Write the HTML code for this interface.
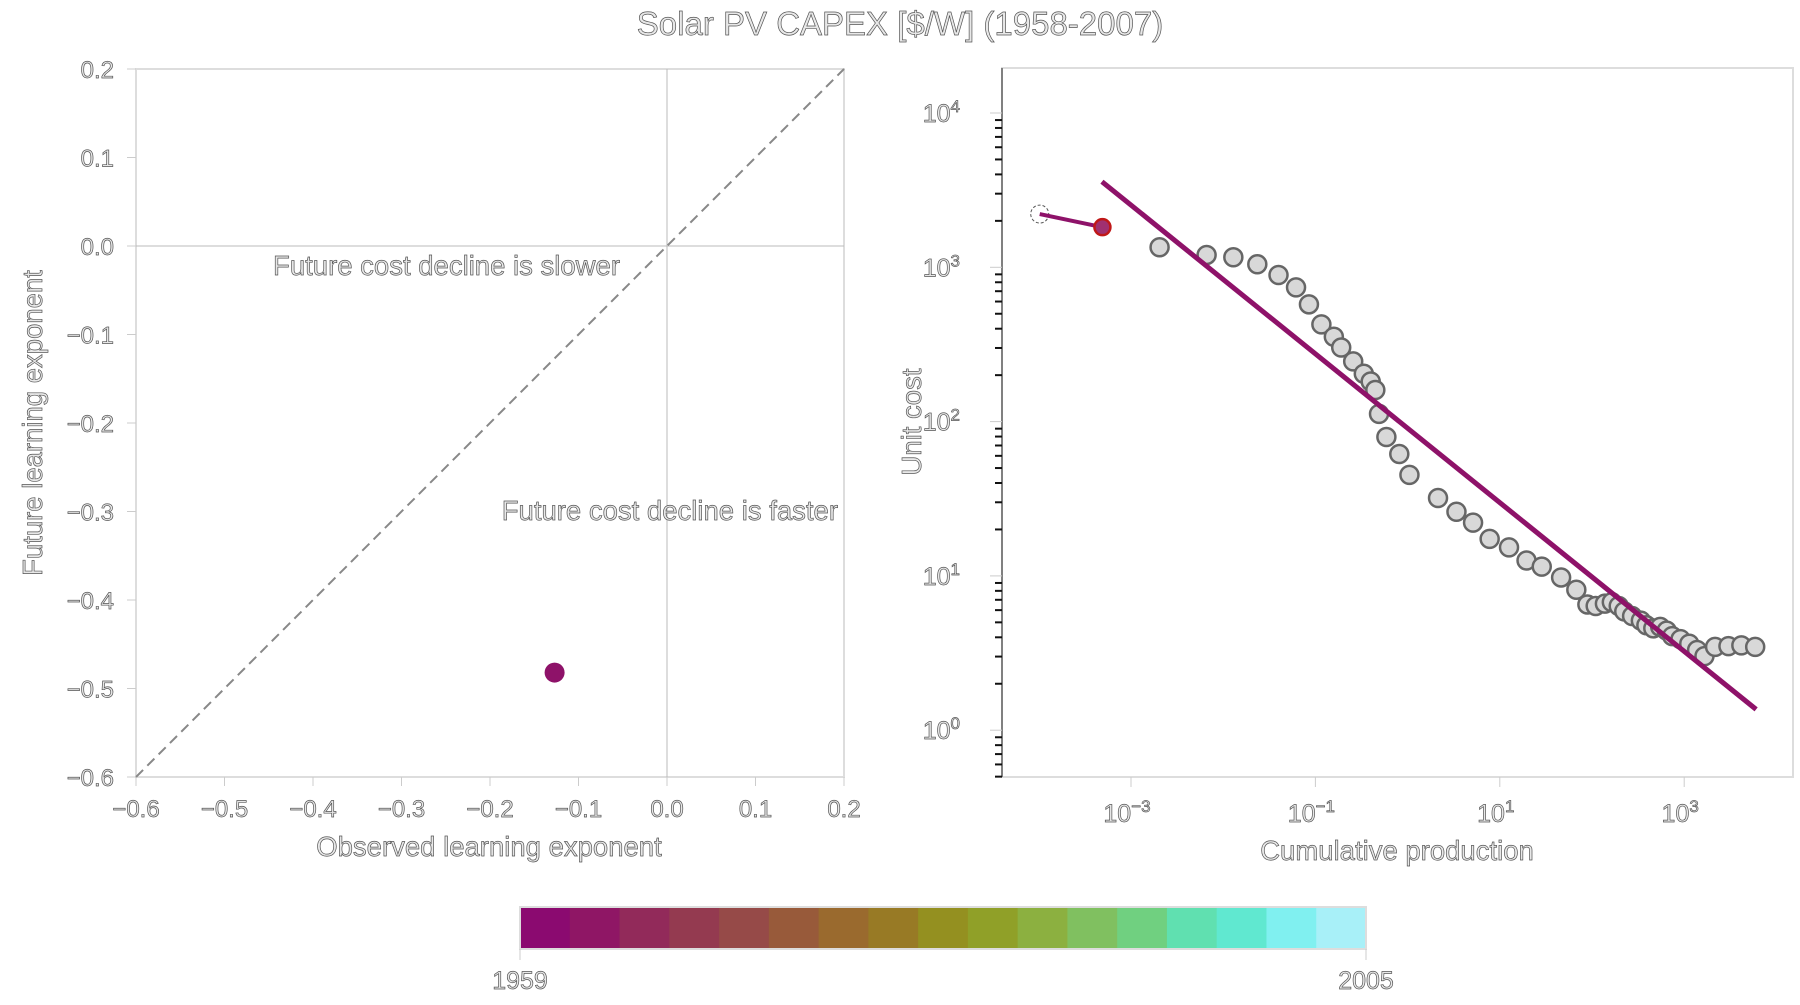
<!DOCTYPE html>
<html><head><meta charset="utf-8"><style>
body{margin:0;background:#fff;width:1800px;height:1000px;overflow:hidden}
text{font-family:"Liberation Sans",sans-serif;fill:#e8e8e8;stroke:#555;stroke-width:0.7px;paint-order:fill}
</style></head><body>
<svg id="chart" width="1800" height="1000" xmlns="http://www.w3.org/2000/svg">
<text x="900" y="35" font-size="33" text-anchor="middle">Solar PV CAPEX [$/W] (1958-2007)</text>
<g id="left"></g>
<g id="right"></g>
<g id="cbar"></g>
</svg>
<script>
const NS="http://www.w3.org/2000/svg";
// ---- left panel data ----
const leftTicks=[-0.6,-0.5,-0.4,-0.3,-0.2,-0.1,0.0,0.1,0.2];
const obsExp=[-0.127];
const futExp=[-0.482];
// ---- right panel data ----
const cumLog=[-3.99,-3.31,-2.69,-2.18,-1.89,-1.63,-1.40,-1.21,-1.07,-0.935,-0.80,-0.72,-0.59,-0.475,-0.40,-0.35,-0.31,-0.23,-0.09,0.02,0.33,0.53,0.71,0.89,1.10,1.29,1.455,1.665,1.83,1.95,2.04,2.14,2.215,2.29,2.35,2.435,2.53,2.59,2.665,2.74,2.81,2.87,2.96,3.055,3.14,3.22,3.335,3.48,3.62,3.77];
const costLog=[3.345,3.26,3.13,3.08,3.065,3.02,2.95,2.87,2.76,2.63,2.55,2.48,2.39,2.31,2.26,2.205,2.05,1.90,1.79,1.655,1.505,1.416,1.345,1.24,1.185,1.10,1.06,0.99,0.91,0.815,0.805,0.82,0.83,0.805,0.77,0.74,0.71,0.68,0.66,0.67,0.645,0.61,0.59,0.56,0.52,0.48,0.54,0.545,0.55,0.54];
const fitX=[-3.315,3.78];
const fitY=[3.555,0.135];
const xDecades=[-3,-1,1,3];
const yDecades=[0,1,2,3,4];
const cbarColors=["#8b0a70","#8f1665","#922a5a","#943a50","#964a48","#985a3a","#9a6a2e","#987a25","#949020","#90a028","#8cb040","#80c060","#70d080","#60e0b0","#60e8d0","#80f0f0","#a8f0f8"];
const cbarLabels=["1959","2005"];

function el(p,t,a,txt){const e=document.createElementNS(NS,t);for(const k in a)e.setAttribute(k,a[k]);if(txt!==undefined)e.textContent=txt;p.appendChild(e);return e;}
// left axes
const L=document.getElementById('left');
const lx=v=>136+(v+0.6)*885, ly=v=>69+(0.2-v)*885;
el(L,'rect',{x:136,y:69,width:708,height:708,fill:'none',stroke:'#ddd','stroke-width':2});
el(L,'line',{x1:lx(0),y1:69,x2:lx(0),y2:777,stroke:'#bbb','stroke-width':1});
el(L,'line',{x1:136,y1:ly(0),x2:844,y2:ly(0),stroke:'#bbb','stroke-width':1});
const diag=el(L,'line',{x1:lx(-0.6),y1:ly(-0.6),x2:lx(0.2),y2:ly(0.2),stroke:'#888','stroke-width':2,'stroke-dasharray':'10 6'});

leftTicks.forEach(v=>{
 el(L,'line',{x1:lx(v),y1:777,x2:lx(v),y2:786,stroke:'#ccc'});
 el(L,'line',{x1:127,y1:ly(v),x2:136,y2:ly(v),stroke:'#ccc'});
 const s=(v<0?'\u2212':'')+Math.abs(v).toFixed(1);
 const t1=el(L,'text',{x:lx(v),y:817,'font-size':24,'text-anchor':'middle'},s);
 
 const t2=el(L,'text',{x:114,y:ly(v)+9,'font-size':24,'text-anchor':'end'},s);
 
});
el(L,'text',{x:489,y:856,'font-size':27.5,'text-anchor':'middle',},'Observed learning exponent');
el(L,'text',{x:42,y:423,'font-size':27.5,'text-anchor':'middle',transform:'rotate(-90 42 423)',},'Future learning exponent');
el(L,'text',{x:620,y:275,'font-size':27.5,'text-anchor':'end',},'Future cost decline is slower');
el(L,'text',{x:838,y:520,'font-size':27.5,'text-anchor':'end',},'Future cost decline is faster');
obsExp.forEach((v,i)=>{const c=el(L,'circle',{cx:lx(v),cy:ly(futExp[i]),r:10,fill:'#8e1269'});
 });
// right axes
const R=document.getElementById('right');
const rx=v=>1131+(v+3)*92.2, ry=v=>113+(4-v)*154.3;
el(R,'rect',{x:1002,y:68,width:791,height:709,fill:'none',stroke:'#ddd','stroke-width':2});
el(R,'line',{x1:1002,y1:68,x2:1002,y2:777,stroke:'#222','stroke-width':1});
for(let d=-1;d<=4;d++)for(let m=1;m<10;m++){const v=d+Math.log10(m);const y=ry(v);if(y<68||y>778)continue;
 el(R,'line',{x1:m===1?990:995,y1:y,x2:1002,y2:y,stroke:m===1?'#ccc':'#111','stroke-width':m===1?1:2});}
yDecades.forEach(d=>{const t=el(R,'text',{x:960,y:ry(d)+9,'font-size':25,'text-anchor':'end'});
 
 t.textContent='10';el(t,'tspan',{dy:-10,'font-size':17},String(d));});
xDecades.forEach(d=>{el(R,'line',{x1:rx(d),y1:777,x2:rx(d),y2:787,stroke:'#ccc'});
 const t=el(R,'text',{x:rx(d)-4,y:822,'font-size':25,'text-anchor':'middle'});
 
 t.textContent='10';el(t,'tspan',{dy:-10,'font-size':17},(d<0?'\u2212':'')+Math.abs(d));});
el(R,'text',{x:1397,y:860,'font-size':27.5,'text-anchor':'middle',},'Cumulative production');
el(R,'text',{x:921,y:422,'font-size':27.5,'text-anchor':'middle',transform:'rotate(-90 921 422)',},'Unit cost');
for(let i=2;i<cumLog.length;i++){const c=el(R,'circle',{cx:rx(cumLog[i]),cy:ry(costLog[i]),r:9,fill:'#d8d8d8',stroke:'#666','stroke-width':2.5});
 }
const fit=el(R,'line',{x1:rx(fitX[0]),y1:ry(fitY[0]),x2:rx(fitX[1]),y2:ry(fitY[1]),stroke:'#8e1269','stroke-width':5});

const h=el(R,'circle',{cx:rx(cumLog[0]),cy:ry(costLog[0]),r:9,fill:'#fff',stroke:'#555','stroke-width':1,'stroke-dasharray':'3 2'});

const seg=el(R,'line',{x1:rx(cumLog[0]),y1:ry(costLog[0]),x2:rx(cumLog[1]),y2:ry(costLog[1]),stroke:'#8e1269','stroke-width':4});

const rp=el(R,'circle',{cx:rx(cumLog[1]),cy:ry(costLog[1]),r:8,fill:'#a03070',stroke:'#c01818','stroke-width':2.5});

// colorbar
const C=document.getElementById('cbar');
const cx0=520,cx1=1366,w=(cx1-cx0)/cbarColors.length;
cbarColors.forEach((c,i)=>{const r=el(C,'rect',{x:cx0+i*w,y:907,width:w+0.5,height:42,fill:c});
 });
el(C,'rect',{x:cx0,y:907,width:cx1-cx0,height:42,fill:'none',stroke:'#ddd','stroke-width':2});
[cx0,cx1].forEach((x,i)=>{el(C,'line',{x1:x,y1:949,x2:x,y2:960,stroke:'#ccc'});
 const t=el(C,'text',{x:x,y:989,'font-size':25,'text-anchor':'middle'},cbarLabels[i]);
 });
</script>
</body></html>
